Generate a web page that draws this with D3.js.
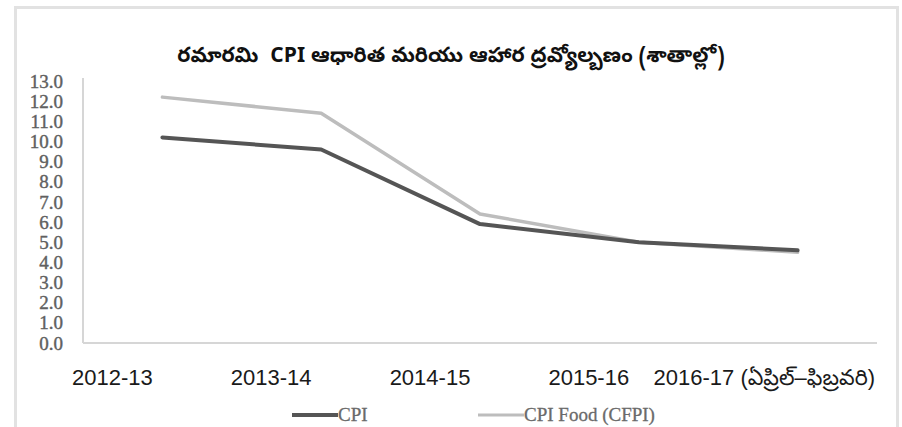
<!DOCTYPE html>
<html>
<head>
<meta charset="utf-8">
<script src="https://cdn.jsdelivr.net/npm/d3@7"></script>
<style>
    body { margin: 0; background: #fff; }
    svg { display: block; }
</style>
</head>
<body>
<div id="chart"></div>
<script>
var categories = ['2012-13', '2013-14', '2014-15', '2015-16', '2016-17 (ఏప్రిల్–ఫిబ్రవరి)'];
var cpiValues = [10.2, 9.6, 5.9, 5.0, 4.6];
var foodValues = [12.2, 11.4, 6.4, 5.0, 4.5];
var yTicks = [0, 1, 2, 3, 4, 5, 6, 7, 8, 9, 10, 11, 12, 13];
var seriesNames = ['CPI', 'CPI Food (CFPI)'];
var title = 'రమారమి  CPI ఆధారిత మరియు ఆహార ద్రవ్యోల్బణం (శాతాల్లో)';

var width = 902, height = 427;
var plot = { left: 83, right: 877, top: 81, bottom: 343 };

var svg = d3.select('#chart').append('svg')
    .attr('width', width)
    .attr('height', height);

// outer frame (bottom edge is cut off in the original)
svg.append('path')
    .attr('d', 'M15.5,' + (height + 5) + 'V7.5H897.5V' + (height + 5))
    .attr('fill', 'none')
    .attr('stroke', '#e2e2e2')
    .attr('stroke-width', 3);

var x = d3.scaleBand().domain(categories).range([plot.left, plot.right]);
var y = d3.scaleLinear().domain([0, 13]).range([plot.bottom, plot.top]);

function cx(d, i) { return x(categories[i]) + x.bandwidth() / 2; }

// title
svg.append('text')
    .attr('x', 451)
    .attr('y', 57)
    .attr('text-anchor', 'middle')
    .attr('dominant-baseline', 'middle')
    .attr('font-family', '"Noto Sans Telugu", "Liberation Sans", Arial, sans-serif')
    .attr('font-size', '21px')
    .attr('font-weight', 'bold')
    .attr('fill', '#111')
    .style('white-space', 'pre')
    .text(title);

// axis lines
svg.append('line')
    .attr('x1', plot.left).attr('x2', plot.left)
    .attr('y1', plot.top - 3).attr('y2', plot.bottom)
    .attr('stroke', '#d6d6d6').attr('stroke-width', 2);
svg.append('line')
    .attr('x1', plot.left).attr('x2', plot.right)
    .attr('y1', plot.bottom).attr('y2', plot.bottom)
    .attr('stroke', '#d6d6d6').attr('stroke-width', 2);

// y axis labels
var yAxis = svg.append('g')
    .attr('transform', 'translate(' + plot.left + ',0)')
    .call(d3.axisLeft(y).tickValues(yTicks).tickFormat(d3.format('.1f')).tickSize(0).tickPadding(20));
yAxis.select('.domain').remove();
yAxis.selectAll('text')
    .attr('font-family', '"Liberation Serif", "DejaVu Serif", serif')
    .attr('font-size', '19px')
    .attr('fill', '#606060')
    .attr('stroke', '#606060')
    .attr('stroke-width', 0.4);

// x axis labels (shifted left of the points; the long last one is right-aligned to the plot)
var xAxis = svg.append('g')
    .attr('transform', 'translate(0,' + plot.bottom + ')')
    .call(d3.axisBottom(x).tickSize(0).tickPadding(26));
xAxis.select('.domain').remove();
xAxis.selectAll('text')
    .attr('dx', -50)
    .attr('font-family', '"Liberation Sans", Arial, "Noto Sans Telugu", sans-serif')
    .attr('font-size', '22px')
    .attr('fill', '#1a1a1a');
xAxis.selectAll('.tick').filter(function (d, i, nodes) { return i === nodes.length - 1; })
    .select('text')
    .attr('text-anchor', 'end')
    .attr('dx', x.bandwidth() / 2 - 2);

// lines
var line = d3.line()
    .x(cx)
    .y(function (d) { return y(d); });

svg.append('path')
    .datum(foodValues)
    .attr('d', line)
    .attr('fill', 'none')
    .attr('stroke', '#bdbdbd')
    .attr('stroke-width', 3.5)
    .attr('stroke-linejoin', 'round')
    .attr('stroke-linecap', 'round');

svg.append('path')
    .datum(cpiValues)
    .attr('d', line)
    .attr('fill', 'none')
    .attr('stroke', '#555')
    .attr('stroke-width', 4)
    .attr('stroke-linejoin', 'round')
    .attr('stroke-linecap', 'round');

// legend
var legendItems = [
    { name: seriesNames[0], color: '#555', width: 4, x: 292 },
    { name: seriesNames[1], color: '#bdbdbd', width: 3, x: 478 }
];
var legend = svg.selectAll('.legend-item')
    .data(legendItems)
    .enter().append('g')
    .attr('class', 'legend-item')
    .attr('transform', function (d) { return 'translate(' + d.x + ',415)'; });
legend.append('line')
    .attr('x1', 0).attr('x2', 46)
    .attr('stroke', function (d) { return d.color; })
    .attr('stroke-width', function (d) { return d.width; });
legend.append('text')
    .attr('x', 46)
    .attr('y', 6)
    .attr('font-family', '"Liberation Serif", "DejaVu Serif", serif')
    .attr('font-size', '19px')
    .attr('fill', '#6a6a6a')
    .attr('stroke', '#6a6a6a')
    .attr('stroke-width', 0.3)
    .text(function (d) { return d.name; });
</script>
</body>
</html>
